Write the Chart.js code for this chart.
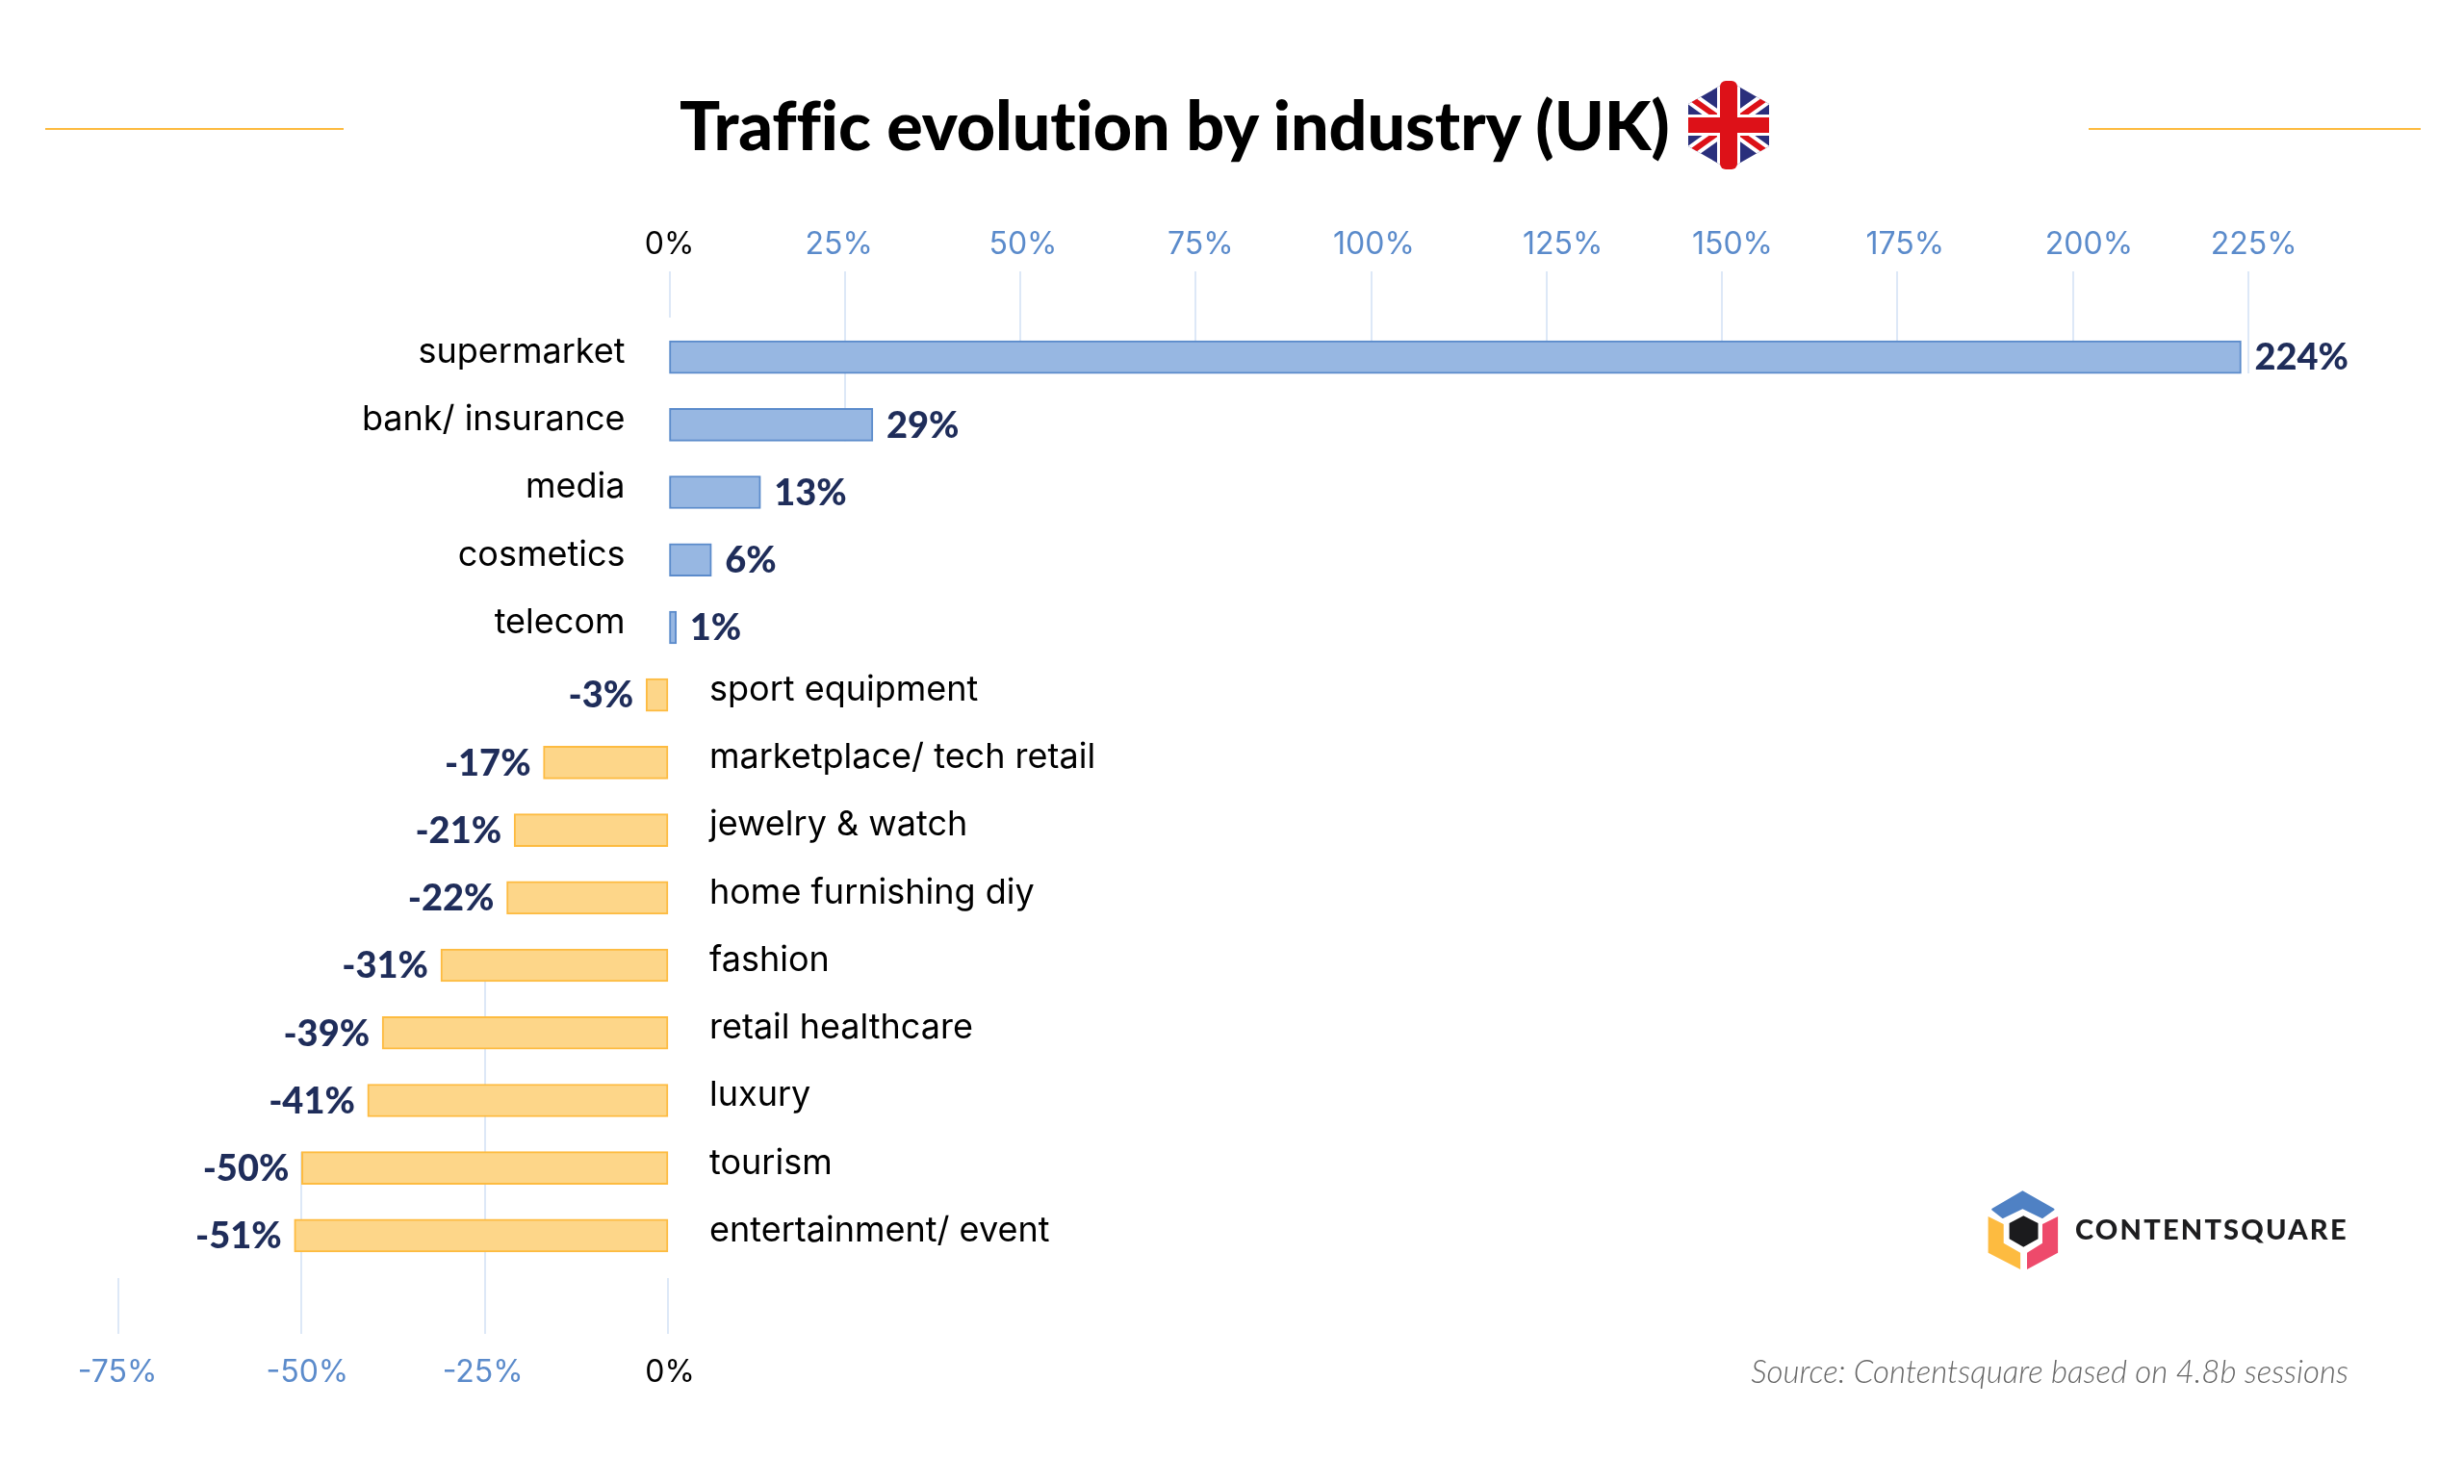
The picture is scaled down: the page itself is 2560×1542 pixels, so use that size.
<!DOCTYPE html>
<html>
<head>
<meta charset="utf-8">
<title>Traffic evolution by industry (UK)</title>
<script src="https://cdn.jsdelivr.net/npm/chart.js@4"></script>
<style>
  html, body { margin: 0; background: #fff; }
  #page { position: relative; width: 2560px; height: 1542px; overflow: hidden; font-family: Lato, sans-serif; }
  #chart { position: absolute; left: 0; top: 0; }
  #title { position: absolute; left: 706px; top: 84px; font-size: 70px; font-weight: 900; letter-spacing: -0.1px; color: #000; white-space: nowrap; line-height: 90px; font-variant-ligatures: none; }
  #source { position: absolute; right: 120px; top: 1405px; font-size: 33px; font-style: italic; font-weight: 300; color: #666; white-space: nowrap; line-height: 38px; }
  .rule { position: absolute; top: 133px; height: 2px; background: #fdbb40; }
  svg { position: absolute; left: 0; top: 0; }
</style>
</head>
<body>
<div id="page">
  <canvas id="chart" width="2560" height="1542"></canvas>
  <div class="rule" style="left:47px;width:310px"></div>
  <div class="rule" style="left:2170px;width:345px"></div>
  <div id="title">Traffic evolution by industry (UK)</div>
  <div id="source">Source: Contentsquare based on 4.8b sessions</div>
  <svg width="2560" height="1542" viewBox="0 0 2560 1542">
    <defs><clipPath id="hex"><path d="M1796 84L1838 108V152L1796 176L1754 152V108Z"/></clipPath></defs>
    <g clip-path="url(#hex)">
      <rect x="1754" y="84" width="84" height="92" fill="#2a2f7c"/>
      <path d="M1754 100L1838 160M1838 100L1754 160" stroke="#fff" stroke-width="14"/>
      <path d="M1754 100L1838 160M1838 100L1754 160" stroke="#dd1118" stroke-width="6"/>
      <rect x="1784" y="84" width="24" height="92" fill="#fff"/>
      <rect x="1754" y="119" width="84" height="22" fill="#fff"/>
      <rect x="1754" y="122" width="84" height="16" fill="#dd1118"/>
    </g>
    <rect x="1787" y="84" width="18" height="92" rx="6" fill="#dd1118"/>
    <path d="M2101.4 1238.3L2133.5 1256.7L2122 1265L2101.4 1255L2080.7 1265L2070.2 1256.7Z" fill="#4f81c4" stroke="#4f81c4" stroke-width="2" stroke-linejoin="round"/>
    <path d="M2065.6 1264L2081.7 1272V1291.7L2099.1 1301.7V1319L2065.6 1301.7Z" fill="#fdbb40"/>
    <path d="M2138.1 1264L2122 1272V1291.7L2106 1301.7V1319L2138.1 1301.7Z" fill="#ee4a6b"/>
    <path d="M2102.3 1263.3L2117.5 1271V1287.3L2102.3 1295.7L2087.6 1287.3V1271Z" fill="#1b1b1d"/>
    <text x="2156" y="1288" font-family="Lato" font-weight="900" font-size="29" letter-spacing="2.2" fill="#1d1d1f">CONTENTSQUARE</text>
  </svg>
</div>
<script>
const categories = ["supermarket", "bank/ insurance", "media", "cosmetics", "telecom", "sport equipment",
  "marketplace/ tech retail", "jewelry & watch", "home furnishing diy", "fashion", "retail healthcare",
  "luxury", "tourism", "entertainment/ event"];
const values = [224, 29, 13, 6, 1, -3, -17, -21, -22, -31, -39, -41, -50, -51];
const topTicks = [0, 25, 50, 75, 100, 125, 150, 175, 200, 225];
const bottomTicks = [-75, -50, -25, 0];

// tick labels in the original are not quite centred on their gridlines
const topLabelNudge = [0, -6, 3, 5, 3, 17, 11, 8, 17, 6];
const bottomLabelNudge = [-1, 6, -2, 2];

const areaLeft = 100, areaRight = 2500;
// the two halves of the original do not share one scale, so each gets its own axis
function axisRange(zeroPx, pxPerUnit) {
  return { min: (areaLeft - zeroPx) / pxPerUnit, max: (areaRight - zeroPx) / pxPerUnit };
}
const noAxisHeight = scale => { scale.height = 0; };

const segmentsAndLabels = {
  id: "segmentsAndLabels",
  beforeDatasetsDraw(chart) {
    const { ctx, scales } = chart;
    ctx.save();
    ctx.strokeStyle = "#dde8f7";
    ctx.lineWidth = 2;
    const line = (x, y1, y2) => {
      ctx.beginPath();
      ctx.moveTo(x, y1);
      ctx.lineTo(x, y2);
      ctx.stroke();
    };
    topTicks.forEach(t => {
      const x = Math.round(scales.xPos.getPixelForValue(t));
      if (t === 0) { line(x, 282, 330); return; }
      let last = 0;
      values.forEach((v, i) => { if (v >= t) last = i; });
      line(x, 282, scales.y.getPixelForValue(last) + 17);
    });
    bottomTicks.forEach(t => {
      const x = Math.round(scales.xNeg.getPixelForValue(t));
      let first = values.findIndex(v => v <= t);
      if (t === 0 || first < 0) { line(x, 1328, 1386); return; }
      line(x, scales.y.getPixelForValue(first) - 17, 1386);
    });
    ctx.restore();
  },
  afterDraw(chart) {
    const { ctx, scales } = chart;
    ctx.save();
    ctx.textBaseline = "middle";

    ctx.font = "400 32px Inter";
    ctx.textAlign = "center";
    topTicks.forEach((t, i) => {
      ctx.fillStyle = t === 0 ? "#000" : "#5b8bcb";
      ctx.fillText(t + "%", scales.xPos.getPixelForValue(t) + topLabelNudge[i], 254);
    });
    bottomTicks.forEach((t, i) => {
      ctx.fillStyle = t === 0 ? "#000" : "#5b8bcb";
      ctx.fillText(t + "%", scales.xNeg.getPixelForValue(t) + bottomLabelNudge[i], 1426);
    });

    values.forEach((v, i) => {
      const y = scales.y.getPixelForValue(i);
      const scale = v > 0 ? scales.xPos : scales.xNeg;
      const zero = scale.getPixelForValue(0);
      const end = scale.getPixelForValue(v);

      ctx.font = "400 36px Inter";
      ctx.fillStyle = "#000";
      ctx.textAlign = v > 0 ? "right" : "left";
      ctx.fillText(categories[i], v > 0 ? zero - 46 : zero + 43, y - 5);

      ctx.font = "900 38px Lato";
      ctx.fillStyle = "#1f2d5a";
      ctx.textAlign = v > 0 ? "left" : "right";
      ctx.fillText(v + "%", v > 0 ? end + 14 : end - 13, y + 1);
    });
    ctx.restore();
  }
};

new Chart(document.getElementById("chart"), {
  type: "bar",
  data: {
    labels: categories,
    datasets: [
      {
        data: values.map(v => (v > 0 ? v : null)),
        xAxisID: "xPos",
        backgroundColor: "#97b7e2",
        borderColor: "#5b8bcb"
      },
      {
        data: values.map(v => (v < 0 ? v : null)),
        xAxisID: "xNeg",
        backgroundColor: "#fdd689",
        borderColor: "#fdbb40"
      }
    ]
  },
  options: {
    indexAxis: "y",
    responsive: false,
    animation: false,
    layout: { padding: { top: 336, bottom: 223, left: areaLeft, right: 2560 - areaRight } },
    datasets: { bar: { grouped: false, barThickness: 34, borderWidth: 2, borderSkipped: false } },
    scales: {
      y: {
        afterFit: scale => { scale.width = 0; },
        grid: { display: false }, border: { display: false }, ticks: { display: false }
      },
      xPos: {
        position: "top",
        ...axisRange(695.5, 7.29),
        afterFit: noAxisHeight,
        grid: { display: false }, border: { display: false }, ticks: { display: false }
      },
      xNeg: {
        position: "bottom",
        ...axisRange(694, 7.613),
        afterFit: noAxisHeight,
        grid: { display: false }, border: { display: false }, ticks: { display: false }
      }
    },
    plugins: { legend: { display: false }, tooltip: { enabled: false }, title: { display: false } }
  },
  plugins: [segmentsAndLabels]
});
</script>
</body>
</html>
